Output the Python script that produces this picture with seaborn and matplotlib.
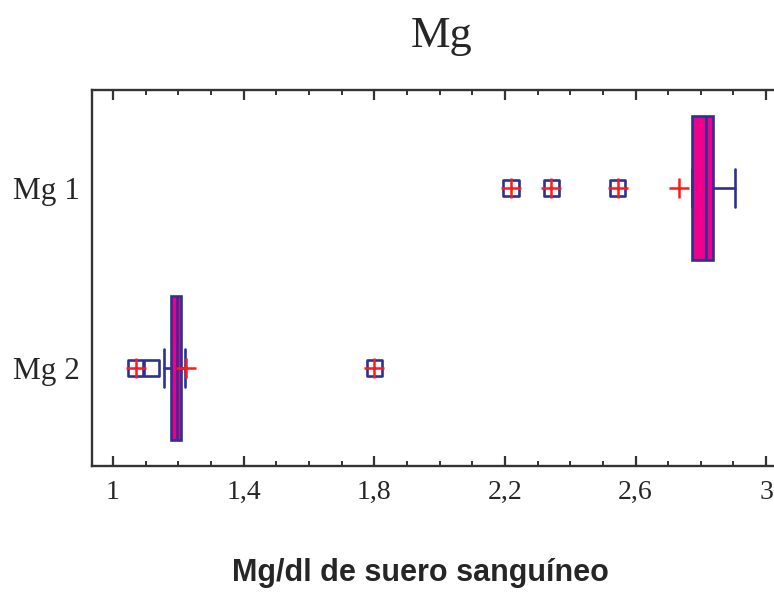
import matplotlib
matplotlib.use("Agg")
import matplotlib.pyplot as plt
import numpy as np
import pandas as pd
import seaborn as sns
from matplotlib.ticker import MultipleLocator

# ---- data ----
groups = ["Mg 1", "Mg 2"]
whisker_low = [2.772, 1.156]
q1 = [2.772, 1.178]
median = [2.815, 1.196]
q3 = [2.836, 1.208]
whisker_high = [2.905, 1.221]
means = [2.733, 1.225]
far_out_group = ["Mg 1", "Mg 1", "Mg 1", "Mg 2", "Mg 2"]
far_out_value = [2.219, 2.342, 2.546, 1.070, 1.800]
near_out_group = ["Mg 2"]
near_out_value = [1.118]
xticks = [1.0, 1.4, 1.8, 2.2, 2.6, 3.0]

# ---- style ----
sns.set_style("white")
plt.rcParams["font.family"] = ["Liberation Serif", "DejaVu Serif"]

NAVY = "#2e3192"
MAGENTA = "#ec008c"
RED = "#ff1a1a"
INK = "#262626"

fig = plt.figure(figsize=(7.74, 6.12), dpi=100)
ax = fig.add_axes([92 / 774, 1 - 466 / 612, 1 - 92 / 774, (466 - 90) / 612])

pos = {g: i for i, g in enumerate(groups)}

stats = []
for i, g in enumerate(groups):
    stats.append(dict(label=g, whislo=whisker_low[i], q1=q1[i], med=median[i],
                      q3=q3[i], whishi=whisker_high[i], fliers=[]))

lw = 1.9
ax.bxp(stats, positions=[pos[g] for g in groups], widths=0.8,
       orientation="horizontal", patch_artist=True, showfliers=False,
       capwidths=0.21,
       boxprops=dict(facecolor=MAGENTA, edgecolor=NAVY, linewidth=lw),
       medianprops=dict(color=NAVY, linewidth=lw),
       whiskerprops=dict(color=NAVY, linewidth=lw),
       capprops=dict(color=NAVY, linewidth=lw))

far_df = pd.DataFrame({"value": far_out_value,
                       "pos": [pos[g] for g in far_out_group]})
near_df = pd.DataFrame({"value": near_out_value,
                        "pos": [pos[g] for g in near_out_group]})
mean_df = pd.DataFrame({"value": means, "pos": [pos[g] for g in groups]})

# outlier squares
sq = pd.concat([far_df, near_df], ignore_index=True)
sns.scatterplot(data=sq, x="value", y="pos", marker="s", s=120,
                facecolor="none", edgecolor=NAVY, linewidth=1.9,
                ax=ax, zorder=4, legend=False)
# red plus on far outliers
sns.scatterplot(data=far_df, x="value", y="pos", marker="+", s=190,
                color=RED, linewidth=1.8, ax=ax, zorder=5, legend=False)
# means
sns.scatterplot(data=mean_df, x="value", y="pos", marker="+", s=190,
                color=RED, linewidth=1.8, ax=ax, zorder=5, legend=False)

ax.set_xlim(0.936, 3.024)
ax.set_ylim(1.544, -0.544)

ax.set_yticks([pos[g] for g in groups])
ax.set_yticklabels(groups)
ax.set_xticks(xticks)
ax.set_xticklabels([f"{v:g}".replace(".", ",") for v in xticks])
ax.xaxis.set_minor_locator(MultipleLocator(0.1))

ax.tick_params(axis="x", which="major", direction="in", length=7, width=1.6,
               top=True, bottom=True, color="#333333", labelsize=20,
               labelcolor=INK, pad=10)
ax.tick_params(axis="x", which="minor", direction="in", length=3.5, width=1.4,
               top=True, bottom=True, color="#333333")
ax.tick_params(axis="y", which="both", length=0, labelsize=22.5,
               labelcolor=INK, pad=9)

for side in ["left", "bottom", "top"]:
    ax.spines[side].set_visible(True)
    ax.spines[side].set_color("#333333")
    ax.spines[side].set_linewidth(1.7)
ax.spines["right"].set_visible(False)

ax.set_ylabel("")
ax.set_title("Mg", fontsize=32, color=INK, pad=31, x=0.512)
ax.set_xlabel("Mg/dl de suero sanguíneo", fontsize=22, fontweight="bold",
              family=["Liberation Sans", "DejaVu Sans"], color=INK)
ax.xaxis.set_label_coords(0.482, -0.245)

fig.savefig("out.png", dpi=100)
